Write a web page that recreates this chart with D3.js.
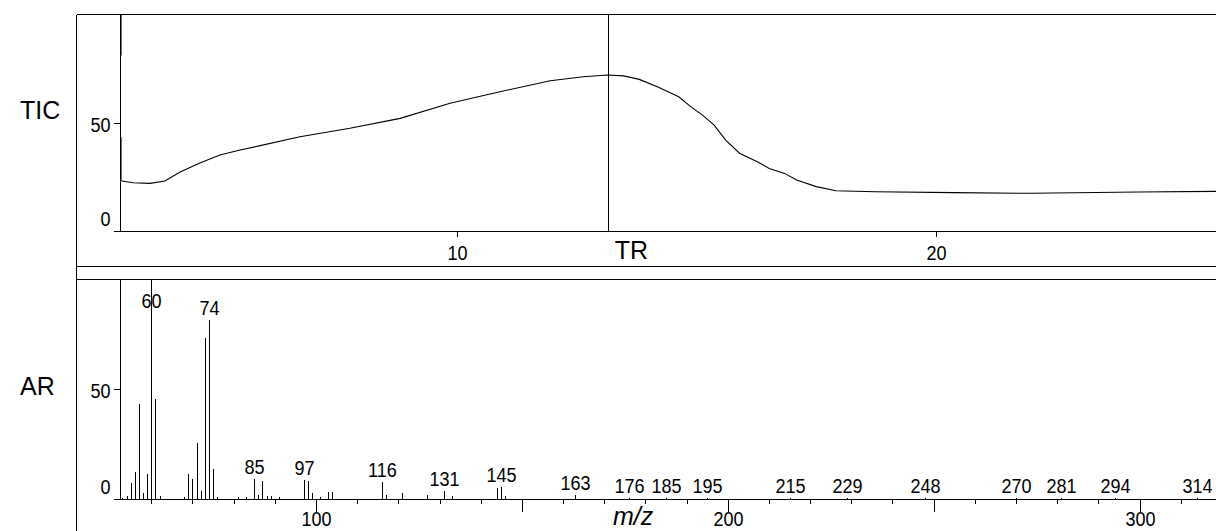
<!DOCTYPE html>
<html>
<head>
<meta charset="utf-8">
<script src="https://cdn.jsdelivr.net/npm/d3@7"></script>
<style>
  html, body { margin: 0; padding: 0; background: #fff; }
  svg { display: block; }
  .num { font-family: "Liberation Sans", Arial, sans-serif; font-size: 21px; fill: #000; }
  .big { font-family: "Liberation Sans", Arial, sans-serif; font-size: 25px; fill: #000; }
  .ax line, .rule { stroke: #000; stroke-width: 1; shape-rendering: crispEdges; }
</style>
</head>
<body>
<svg id="chart" width="1216" height="531"></svg>
<script>
// Total ion current: retention time (min) and relative intensity (%).
// A null value breaks the trace (the off-scale start along the axis).
const ticTime = [2.996, 2.996, 2.996, 2.996, 2.996, 3.02, 3.25, 3.60, 3.91, 4.23, 4.64, 5.06, 5.48, 5.90,
  6.73, 7.77, 8.82, 9.86, 10.90, 11.95, 12.64, 13.15, 13.48, 13.81, 14.22, 14.63, 14.88, 15.12,
  15.37, 15.61, 15.90, 16.27, 16.52, 16.84, 17.09, 17.50, 17.91, 18.73, 20.37, 22.00, 24.22, 25.84, 26.34];
const ticValue = [100, 81, null, 43.4, 23.5, 23.1, 22.3, 22.0, 23.1, 27.2, 31.4, 35.1, 37.4, 39.4,
  43.5, 47.4, 52.0, 59.0, 64.3, 69.4, 71.2, 72.0, 71.6, 70.0, 66.3, 62.0, 57.4, 53.6,
  48.9, 42.0, 35.9, 32.0, 28.9, 26.6, 23.5, 20.5, 18.6, 18.1, 17.7, 17.4, 18.0, 18.3, 18.3];

// Selected retention time of the spectrum shown below
const trTime = 13.15;

// Mass spectrum at TR: m/z and relative abundance (%)
const peakMz = [53, 54, 55, 56, 57, 58, 59, 60, 61, 62, 68, 69, 70, 71, 72, 73, 74, 75, 76, 81, 83,
  85, 86, 87, 88, 89, 91, 97, 98, 99, 101, 103, 104, 116, 117, 121, 127, 131, 133, 144, 145, 146,
  163, 176, 185, 195, 215, 229, 248, 270, 281, 294, 314];
const peakAbundance = [0.6, 1.5, 7.1, 12.2, 42.9, 2.9, 11.3, 100, 45.5, 1.5, 0.8, 11.3, 8.9, 25.6, 3.8, 72.9, 81.2, 13.7, 1.0, 0.8, 0.8,
  8.9, 2.0, 8.0, 1.2, 1.2, 1.0, 8.8, 8.0, 2.5, 0.8, 3.0, 3.0, 7.5, 2.0, 2.5, 2.0, 3.8, 1.5, 4.8, 5.3, 1.5,
  1.8, 0.5, 0.5, 0.5, 0.5, 0.5, 0.5, 0.5, 0.5, 0.5, 0.5];
// Peaks annotated with their m/z
const labelledMz = [60, 74, 85, 97, 116, 131, 145, 163, 176, 185, 195, 215, 229, 248, 270, 281, 294, 314];

// Axis ticks
const ticTimeTicks = [10, 20];
const intensityTicks = [0, 50];
const mzTicks = d3.range(60, 321, 10);
const mzMajorStep = 50;
const mzLabelStep = 100;

const svg = d3.select("#chart");
const frameL = 76, frameT = 14, plotL = 120, plotR = 1240;
const ticBottom = 231, sepA = 266, sepB = 279, arBottom = 499;

const x = d3.scaleLinear().domain([2.975, 26.34]).range([plotL, plotR]);
const yT = d3.scaleLinear().domain([0, 100]).range([ticBottom, frameT + 0.4]);
const mz = d3.scaleLinear().domain([52.4, 324.4]).range([plotL, plotR]);
const yA = d3.scaleLinear().domain([0, 100]).range([arBottom, sepB - 0.5]);

const px = v => Math.round(v) + 0.5;

// Numbers are set in a narrowed sans: move x/y into a transform and squeeze horizontally
const squeeze = 0.86;
function condense(sel) {
  sel.each(function () {
    const t = d3.select(this);
    const tx = +t.attr("x") || 0, ty = +t.attr("y") || 0;
    t.attr("x", 0).attr("y", 0).attr("dy", null)
      .attr("transform", `translate(${tx},${ty}) scale(${squeeze},1)`);
  });
}

// Frame: outer box and the separator band between the two panels
const frame = svg.append("g");
frame.append("line").attr("class", "rule").attr("x1", px(frameL)).attr("x2", 1300).attr("y1", px(frameT)).attr("y2", px(frameT));
frame.append("line").attr("class", "rule").attr("x1", px(frameL)).attr("x2", px(frameL)).attr("y1", px(frameT)).attr("y2", 600);
frame.append("line").attr("class", "rule").attr("x1", px(frameL)).attr("x2", 1300).attr("y1", px(sepA)).attr("y2", px(sepA));
frame.append("line").attr("class", "rule").attr("x1", px(frameL)).attr("x2", 1300).attr("y1", px(sepB)).attr("y2", px(sepB));

// ---------- TIC panel ----------
const gTic = svg.append("g");
gTic.append("line").attr("class", "rule").attr("x1", px(plotL)).attr("x2", px(plotL)).attr("y1", px(frameT)).attr("y2", px(ticBottom));
gTic.append("line").attr("class", "rule").attr("x1", px(plotL)).attr("x2", 1300).attr("y1", px(ticBottom)).attr("y2", px(ticBottom));

const yAxisT = gTic.append("g").attr("class", "ax").attr("transform", `translate(${px(plotL)},0)`)
  .call(d3.axisLeft(yT).tickValues(intensityTicks).tickSize(7).tickFormat(d3.format("d")));
yAxisT.select(".domain").remove();
yAxisT.selectAll(".tick").attr("transform", d => `translate(0,${px(yT(d))})`);
yAxisT.selectAll("text").attr("class", "num").attr("x", -10).attr("dy", null)
  .attr("y", d => d === 0 ? -6 : 8.5).call(condense);

const xAxisT = gTic.append("g").attr("class", "ax").attr("transform", `translate(0,${px(ticBottom)})`)
  .call(d3.axisBottom(x).tickValues(ticTimeTicks).tickSize(5).tickFormat(d3.format("d")));
xAxisT.select(".domain").remove();
xAxisT.selectAll(".tick").attr("transform", d => `translate(${px(x(d))},0)`);
xAxisT.selectAll("text").attr("class", "num").attr("dy", null).attr("y", 28).call(condense);

const ticPoints = ticTime.map((t, i) => [t, ticValue[i]]);
const ticLine = d3.line()
  .defined(d => d[1] != null)
  .x(d => x(d[0]))
  .y(d => yT(d[1]));
gTic.append("path").datum(ticPoints)
  .attr("d", ticLine)
  .attr("fill", "none").attr("stroke", "#000").attr("stroke-width", 1.1);

gTic.append("line").attr("class", "rule")
  .attr("x1", px(x(trTime))).attr("x2", px(x(trTime)))
  .attr("y1", px(frameT)).attr("y2", px(ticBottom));

svg.append("text").attr("class", "big").attr("x", 20).attr("y", 119).text("TIC");
svg.append("text").attr("class", "big").attr("x", x(trTime) + 7).attr("y", 259).text("TR");

// ---------- Spectrum panel ----------
const gAr = svg.append("g");
gAr.append("line").attr("class", "rule").attr("x1", px(plotL)).attr("x2", px(plotL)).attr("y1", px(sepB)).attr("y2", px(arBottom));
gAr.append("line").attr("class", "rule").attr("x1", px(plotL)).attr("x2", 1300).attr("y1", px(arBottom)).attr("y2", px(arBottom));

const yAxisA = gAr.append("g").attr("class", "ax").attr("transform", `translate(${px(plotL)},0)`)
  .call(d3.axisLeft(yA).tickValues(intensityTicks).tickSize(7).tickFormat(d3.format("d")));
yAxisA.select(".domain").remove();
yAxisA.selectAll(".tick").attr("transform", d => `translate(0,${px(yA(d))})`);
yAxisA.selectAll("text").attr("class", "num").attr("x", -10).attr("dy", null)
  .attr("y", d => d === 0 ? -6 : 8.5).call(condense);

const xAxisA = gAr.append("g").attr("class", "ax").attr("transform", `translate(0,${px(arBottom)})`)
  .call(d3.axisBottom(mz).tickValues(mzTicks).tickSize(4)
    .tickFormat(d => d % mzLabelStep === 0 ? d : ""));
xAxisA.select(".domain").remove();
xAxisA.selectAll(".tick").attr("transform", d => `translate(${px(mz(d))},0)`);
xAxisA.selectAll(".tick line").attr("y2", d => d % mzMajorStep === 0 ? 12 : 4);
xAxisA.selectAll("text").attr("class", "num").attr("dy", null).attr("y", 26.5).call(condense);

const peaks = peakMz.map((m, i) => ({ m, a: peakAbundance[i] }));
gAr.append("g").selectAll("line").data(peaks).join("line")
  .attr("class", "rule")
  .attr("x1", d => px(mz(d.m))).attr("x2", d => px(mz(d.m)))
  .attr("y1", px(arBottom)).attr("y2", d => Math.max(yA(d.a), sepB));

const labelTopLimit = sepB + 29;
gAr.append("g").selectAll("text").data(peaks.filter(d => labelledMz.includes(d.m))).join("text")
  .attr("class", "num")
  .attr("text-anchor", "middle")
  .attr("x", d => px(mz(d.m)))
  .attr("y", d => Math.max(yA(d.a) - 5, labelTopLimit))
  .text(d => d.m)
  .call(condense);

svg.append("text").attr("class", "big").attr("x", 20).attr("y", 395).text("AR");
svg.append("text").attr("class", "big").attr("x", 613).attr("y", 525)
  .attr("font-style", "italic").text("m/z");
</script>
</body>
</html>
